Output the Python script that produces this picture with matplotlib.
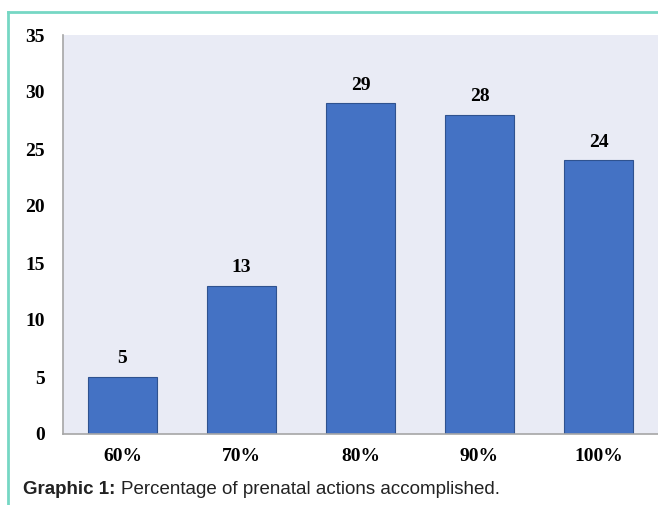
import matplotlib.pyplot as plt
from matplotlib.lines import Line2D

categories = ['60%', '70%', '80%', '90%', '100%']
values = [5, 13, 29, 28, 24]
yticks = [0, 5, 10, 15, 20, 25, 30, 35]

fig = plt.figure(figsize=(6.58, 5.05), dpi=100)
ax = fig.add_axes([63 / 658, 71 / 505, 595 / 658, 399 / 505])
ax.set_facecolor('#E9EBF5')

x = range(len(categories))
ax.bar(x, values, width=0.58, color='#4472C4', edgecolor='#2F528F', linewidth=0.8, zorder=2)
for i, v in zip(x, values):
    ax.annotate(str(v), (i, v), xytext=(0, 7), textcoords='offset points',
                ha='center', va='bottom', fontsize=14, fontweight='bold',
                family='Liberation Serif')

ax.set_xlim(-0.5, len(categories) - 0.5)
ax.set_ylim(0, 35)
ax.set_xticks(list(x))
ax.set_xticklabels(categories)
ax.set_yticks(yticks)
for lab in ax.get_xticklabels() + ax.get_yticklabels():
    lab.set_family('Liberation Serif')
    lab.set_fontweight('bold')
    lab.set_fontsize(14)
ax.tick_params(axis='x', length=0, pad=10)
ax.tick_params(axis='y', length=0, pad=13)

for s in ['top', 'right']:
    ax.spines[s].set_visible(False)
ax.spines['left'].set_color('#A6A6A6')
ax.spines['bottom'].set_color('#A6A6A6')
ax.spines['left'].set_linewidth(1.2)
ax.spines['bottom'].set_linewidth(1.2)

# teal frame on top and left
fig.add_artist(Line2D([8 / 658, 1], [1 - 12 / 505, 1 - 12 / 505], color='#76D7C4', lw=2))
fig.add_artist(Line2D([8 / 658, 8 / 658], [0, 1 - 12 / 505], color='#76D7C4', lw=2))

cap = fig.text(23 / 658, 1 - 490 / 505, 'Graphic 1:', fontsize=13.5, fontweight='bold',
               family='Liberation Sans', color='#222222', va='center', ha='left')
fig.canvas.draw()
ax.annotate('Percentage of prenatal actions accomplished.', xy=(1, 0.5), xycoords=cap,
            xytext=(4, 0), textcoords='offset points', fontsize=13.5,
            family='Liberation Sans', color='#222222', va='center', ha='left',
            annotation_clip=False)

fig.savefig('out.png', dpi=100)
